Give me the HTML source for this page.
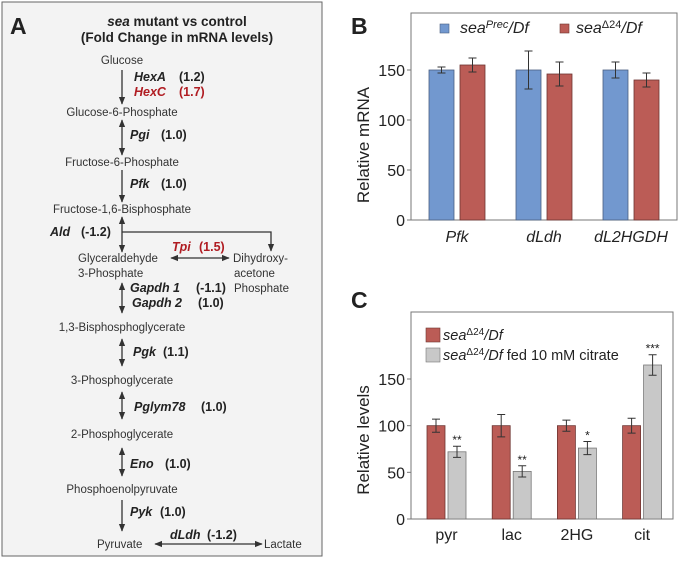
<!DOCTYPE html>
<html><head><meta charset="utf-8"><style>
body{margin:0;background:#fff;width:678px;height:559px;overflow:hidden}
svg{font-family:"Liberation Sans",Arial,sans-serif}
.m{font-size:11.5px;fill:#333}
.e{font-size:12.5px;font-weight:bold;fill:#222}
.r{fill:#b01c22}
</style></head><body>
<svg width="678" height="559" viewBox="0 0 678 559">
<defs>
<marker id="ah" viewBox="0 0 10 10" refX="9" refY="5" markerWidth="6" markerHeight="6" orient="auto-start-reverse"><path d="M0,1 L10,5 L0,9 z" fill="#333"/></marker>
</defs>
<g>
<rect x="2" y="2" width="320" height="554" fill="#f3f3f3" stroke="#666" stroke-width="1"/>
<text x="10" y="34" font-size="23" font-weight="bold" fill="#222">A</text>
<text x="177" y="26" text-anchor="middle" font-size="13.5" font-weight="bold" fill="#222"><tspan font-style="italic">sea</tspan> mutant vs control</text>
<text x="177" y="42" text-anchor="middle" font-size="13.5" font-weight="bold" fill="#222">(Fold Change in mRNA levels)</text>
<g stroke="#333" stroke-width="1.3" fill="none">
<line x1="122" y1="70" x2="122" y2="104" marker-end="url(#ah)"/>
<line x1="122" y1="120" x2="122" y2="155" marker-start="url(#ah)" marker-end="url(#ah)"/>
<line x1="122" y1="170" x2="122" y2="202" marker-end="url(#ah)"/>
<line x1="122" y1="217" x2="122" y2="252" marker-start="url(#ah)" marker-end="url(#ah)"/>
<polyline points="122,232 271,232 271,251" marker-end="url(#ah)"/>
<line x1="171" y1="258" x2="229" y2="258" marker-start="url(#ah)" marker-end="url(#ah)"/>
<line x1="122" y1="283" x2="122" y2="313" marker-start="url(#ah)" marker-end="url(#ah)"/>
<line x1="122" y1="339" x2="122" y2="366" marker-start="url(#ah)" marker-end="url(#ah)"/>
<line x1="122" y1="392" x2="122" y2="419" marker-start="url(#ah)" marker-end="url(#ah)"/>
<line x1="122" y1="448" x2="122" y2="476" marker-start="url(#ah)" marker-end="url(#ah)"/>
<line x1="122" y1="500" x2="122" y2="531" marker-end="url(#ah)"/>
<line x1="155" y1="544" x2="262" y2="544" marker-start="url(#ah)" marker-end="url(#ah)"/>
</g>
<text class="m" x="122" y="64" text-anchor="middle">Glucose</text>
<text class="e" x="134" y="81" font-style="italic">HexA</text><text class="e" x="179" y="81">(1.2)</text>
<text class="e r" x="134" y="96" font-style="italic">HexC</text><text class="e r" x="179" y="96">(1.7)</text>
<text class="m" x="122" y="116" text-anchor="middle">Glucose-6-Phosphate</text>
<text class="e" x="130" y="139" font-style="italic">Pgi</text><text class="e" x="161" y="139">(1.0)</text>
<text class="m" x="122" y="166" text-anchor="middle">Fructose-6-Phosphate</text>
<text class="e" x="130" y="188" font-style="italic">Pfk</text><text class="e" x="161" y="188">(1.0)</text>
<text class="m" x="122" y="213" text-anchor="middle">Fructose-1,6-Bisphosphate</text>
<text class="e" x="50" y="236" font-style="italic">Ald</text><text class="e" x="81" y="236">(-1.2)</text>
<text class="e r" x="172" y="251" font-style="italic">Tpi</text><text class="e r" x="199" y="251">(1.5)</text>
<text class="m" x="78" y="262">Glyceraldehyde</text>
<text class="m" x="78" y="277">3-Phosphate</text>
<text class="m" x="233" y="262">Dihydroxy-</text>
<text class="m" x="234" y="277">acetone</text>
<text class="m" x="234" y="292">Phosphate</text>
<text class="e" x="130" y="292" font-style="italic">Gapdh 1</text><text class="e" x="196" y="292">(-1.1)</text>
<text class="e" x="132" y="307" font-style="italic">Gapdh 2</text><text class="e" x="198" y="307">(1.0)</text>
<text class="m" x="122" y="331" text-anchor="middle">1,3-Bisphosphoglycerate</text>
<text class="e" x="133" y="356" font-style="italic">Pgk</text><text class="e" x="163" y="356">(1.1)</text>
<text class="m" x="122" y="384" text-anchor="middle">3-Phosphoglycerate</text>
<text class="e" x="134" y="411" font-style="italic">Pglym78</text><text class="e" x="201" y="411">(1.0)</text>
<text class="m" x="122" y="438" text-anchor="middle">2-Phosphoglycerate</text>
<text class="e" x="130" y="468" font-style="italic">Eno</text><text class="e" x="165" y="468">(1.0)</text>
<text class="m" x="122" y="493" text-anchor="middle">Phosphoenolpyruvate</text>
<text class="e" x="130" y="516" font-style="italic">Pyk</text><text class="e" x="160" y="516">(1.0)</text>
<text class="e" x="170" y="539" font-style="italic">dLdh</text><text class="e" x="207" y="539">(-1.2)</text>
<text class="m" x="97" y="548">Pyruvate</text>
<text class="m" x="264" y="548">Lactate</text>
</g>
<g id="chartB"></g>
<g id="chartC"></g>
</svg>
<script>
const NS="http://www.w3.org/2000/svg";
const bCats=["Pfk","dLdh","dL2HGDH"];
const bPrec=[150,150,150];
const bPrecErr=[3,19,8];
const bDelta=[155,146,140];
const bDeltaErr=[7,12,7];
const bTicks=[0,50,100,150];
const cCats=["pyr","lac","2HG","cit"];
const cDelta=[100,100,100,100];
const cDeltaErr=[7,12,6,8];
const cCitrate=[72,51,76,165];
const cCitrateErr=[6,6,7,11];
const cStars=["**","**","*","***"];
const cTicks=[0,50,100,150];

function mk(p,tag,attrs,txt){const e=document.createElementNS(NS,tag);for(const k in attrs)e.setAttribute(k,attrs[k]);if(txt!==undefined)e.textContent=txt;p.appendChild(e);return e;}
function errBar(g,x,y1,y2){mk(g,"path",{d:`M${x},${y1}V${y2}M${x-4},${y1}H${x+4}M${x-4},${y2}H${x+4}`,stroke:"#333","stroke-width":1,fill:"none"});}

// Panel B
(function(){
const g=document.getElementById("chartB");
const x0=411,x1=677,yT=13,y0=220;
const y=v=>y0-v*1.0;
const gx=i=>457+i*87;
mk(g,"text",{x:351,y:34,"font-size":23,"font-weight":"bold",fill:"#222"},"B");
mk(g,"rect",{x:x0,y:yT,width:x1-x0,height:y0-yT,fill:"none",stroke:"#777"});
bTicks.forEach(t=>{mk(g,"line",{x1:x0-4,x2:x0,y1:y(t),y2:y(t),stroke:"#777"});
 const tx=mk(g,"text",{x:x0-6,y:y(t)+6,"text-anchor":"end","font-size":16,fill:"#222"},t);
 
 });
const yt=mk(g,"text",{transform:"translate(369,145) rotate(-90)","text-anchor":"middle","font-size":17,fill:"#222"},"Relative mRNA");


bCats.forEach((c,i)=>{
 const xb=gx(i)-28,xr=gx(i)+3;
 const b1=mk(g,"rect",{x:xb,y:y(bPrec[i]),width:25,height:y0-y(bPrec[i]),fill:"#7298cf",stroke:"#4a5f80","stroke-width":0.8});
 
 
 errBar(g,xb+12.5,y(bPrec[i]+bPrecErr[i]),y(bPrec[i]-bPrecErr[i]));
 const b2=mk(g,"rect",{x:xr,y:y(bDelta[i]),width:25,height:y0-y(bDelta[i]),fill:"#bb5c56",stroke:"#6e3431","stroke-width":0.8});
 
 
 errBar(g,xr+12.5,y(bDelta[i]+bDeltaErr[i]),y(bDelta[i]-bDeltaErr[i]));
 const l=mk(g,"text",{x:gx(i),y:242,"text-anchor":"middle","font-size":16,"font-style":"italic",fill:"#222"},c);
 
 
});
mk(g,"rect",{x:440,y:24,width:9,height:9,fill:"#7298cf",stroke:"#4a5f80","stroke-width":0.6});
const t1=mk(g,"text",{x:460,y:33,"font-size":16,"font-style":"italic",fill:"#222"});
t1.innerHTML='sea<tspan dy="-5" font-size="11">Prec</tspan><tspan dy="5">/Df</tspan>';


mk(g,"rect",{x:560,y:24,width:9,height:9,fill:"#bb5c56",stroke:"#6e3431","stroke-width":0.6});
const t2=mk(g,"text",{x:576,y:33,"font-size":16,"font-style":"italic",fill:"#222"});
t2.innerHTML='sea<tspan dy="-5" font-size="11" font-style="normal">Δ24</tspan><tspan dy="5">/Df</tspan>';


})();

// Panel C
(function(){
const g=document.getElementById("chartC");
const x0=411,x1=673,yT=312,y0=519;
const y=v=>y0-v*(140/150);
const gx=i=>446.5+i*65.2;
mk(g,"text",{x:351,y:308,"font-size":23,"font-weight":"bold",fill:"#222"},"C");
mk(g,"rect",{x:x0,y:yT,width:x1-x0,height:y0-yT,fill:"none",stroke:"#777"});
cTicks.forEach(t=>{mk(g,"line",{x1:x0-4,x2:x0,y1:y(t),y2:y(t),stroke:"#777"});
 const tx=mk(g,"text",{x:x0-6,y:y(t)+6,"text-anchor":"end","font-size":16,fill:"#222"},t);
 
 });
const yt=mk(g,"text",{transform:"translate(369,440) rotate(-90)","text-anchor":"middle","font-size":17,fill:"#222"},"Relative levels");


cCats.forEach((c,i)=>{
 const xr=gx(i)-19.5,xg=gx(i)+1.5;
 const b1=mk(g,"rect",{x:xr,y:y(cDelta[i]),width:18,height:y0-y(cDelta[i]),fill:"#bb5c56",stroke:"#6e3431","stroke-width":0.8});
 
 
 errBar(g,xr+9,y(cDelta[i]+cDeltaErr[i]),y(cDelta[i]-cDeltaErr[i]));
 const b2=mk(g,"rect",{x:xg,y:y(cCitrate[i]),width:18,height:y0-y(cCitrate[i]),fill:"#c8c8c8",stroke:"#777","stroke-width":0.8});
 
 
 errBar(g,xg+9,y(cCitrate[i]+cCitrateErr[i]),y(cCitrate[i]-cCitrateErr[i]));
 mk(g,"text",{x:xg+9,y:y(cCitrate[i]+cCitrateErr[i])-2,"text-anchor":"middle","font-size":12,fill:"#222"},cStars[i]);
 const l=mk(g,"text",{x:gx(i),y:540,"text-anchor":"middle","font-size":16,fill:"#222"},c);
 
 
});
mk(g,"rect",{x:426,y:328,width:14,height:14,fill:"#bb5c56",stroke:"#6e3431","stroke-width":0.6});
const t1=mk(g,"text",{x:443,y:340,"font-size":14.5,"font-style":"italic",fill:"#222"});
t1.innerHTML='sea<tspan dy="-5" font-size="10" font-style="normal">Δ24</tspan><tspan dy="5">/Df</tspan>';


mk(g,"rect",{x:426,y:348,width:14,height:14,fill:"#c8c8c8",stroke:"#777","stroke-width":0.6});
const t2=mk(g,"text",{x:443,y:360,"font-size":14.5,"font-style":"italic",fill:"#222"});
t2.innerHTML='sea<tspan dy="-5" font-size="10" font-style="normal">Δ24</tspan><tspan dy="5">/Df</tspan><tspan font-style="normal"> fed 10 mM citrate</tspan>';


})();
</script>
</body></html>
